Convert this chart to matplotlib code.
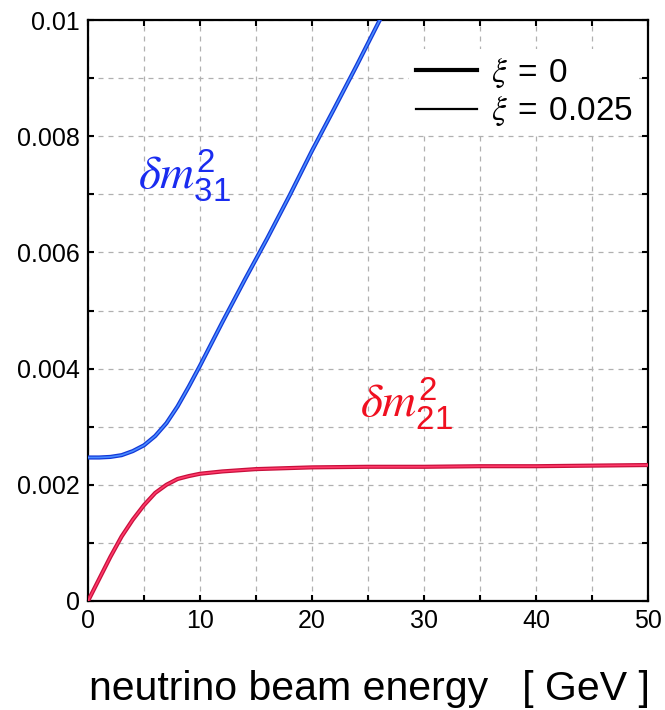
import matplotlib
matplotlib.use("Agg")
import matplotlib.pyplot as plt
from matplotlib.lines import Line2D
from matplotlib.ticker import MultipleLocator, FuncFormatter

plt.rcParams['font.family'] = ['Liberation Sans', 'DejaVu Sans']
plt.rcParams['mathtext.fontset'] = 'custom'
plt.rcParams['mathtext.it'] = 'STIXGeneral:italic'
plt.rcParams['mathtext.rm'] = 'Liberation Sans'

energy31 = [0, 1, 2, 3, 4, 5, 6, 7, 8, 9, 10, 12, 14, 16, 18, 20, 22, 24, 26, 27]
dm31 = [0.00247, 0.00247, 0.00248, 0.00251, 0.00258, 0.00268, 0.00284, 0.00306,
        0.00335, 0.00369, 0.00405, 0.00480, 0.00553, 0.00624, 0.00698, 0.00775,
        0.00848, 0.00922, 0.00998, 0.01035]

energy21 = [0, 1, 2, 3, 4, 5, 6, 7, 8, 9, 10, 12, 15, 20, 25, 30, 35, 40, 45, 50]
dm21 = [0.0, 0.00038, 0.00076, 0.00111, 0.00140, 0.00165, 0.00186, 0.00200,
        0.00210, 0.00215, 0.00219, 0.00223, 0.00227, 0.00230, 0.00231, 0.00231,
        0.00232, 0.00232, 0.00233, 0.00234]

xi_labels = [r'$\xi\;=\;0$', r'$\xi\;=\;0.025$']

fig = plt.figure(figsize=(6.65, 7.1), dpi=100)
ax = fig.add_axes([88/665, 1 - 601/710, 560/665, 581/710])

# xi = 0 (thick) and xi = 0.025 (thin) lie on top of each other
ax.plot(energy31, dm31, color='#1238d8', lw=3.0, solid_capstyle='butt', zorder=3)
ax.plot(energy31, dm31, color='#4a8cff', lw=1.2, zorder=4)
ax.plot(energy21, dm21, color='#c8103c', lw=3.0, solid_capstyle='butt', zorder=3)
ax.plot(energy21, dm21, color='#ff3a6a', lw=1.2, zorder=4)

ax.set_xlim(0, 50)
ax.set_ylim(0, 0.01)
ax.xaxis.set_major_locator(MultipleLocator(10))
ax.xaxis.set_minor_locator(MultipleLocator(5))
ax.yaxis.set_major_locator(MultipleLocator(0.002))
ax.yaxis.set_minor_locator(MultipleLocator(0.001))
ax.yaxis.set_major_formatter(FuncFormatter(lambda v, p: f'{v:g}'))

ax.grid(True, which='both', color='#b0b0b0', linestyle=(0, (4, 4)), lw=0.9)
ax.set_axisbelow(True)
ax.tick_params(which='both', direction='in', top=True, right=True,
               length=4, width=1.5, labelsize=18, pad=6)
for s in ax.spines.values():
    s.set_linewidth(1.6)

ax.text(4.5, 0.00709, r'$\delta m^2_{31}$', color='#1a2cf0', fontsize=34)
ax.text(24.3, 0.00317, r'$\delta m^2_{21}$', color='#f01020', fontsize=34)

handles = [Line2D([], [], color='black', lw=3.0),
           Line2D([], [], color='black', lw=1.6)]
leg = ax.legend(handles, xi_labels, loc='upper right', fontsize=24,
                bbox_to_anchor=((639 - 88) / 560, 1 - (49 - 20) / 581),
                frameon=True, facecolor='white', edgecolor='none', framealpha=1,
                handlelength=1.85, handletextpad=0.4, labelspacing=0.14,
                borderaxespad=0, borderpad=0.2, fancybox=False)

fig.text(89/665, 1 - 700/710, 'neutrino beam energy   [ GeV ]',
         fontsize=29.5, ha='left', va='baseline')

fig.savefig('out.png', dpi=100)
